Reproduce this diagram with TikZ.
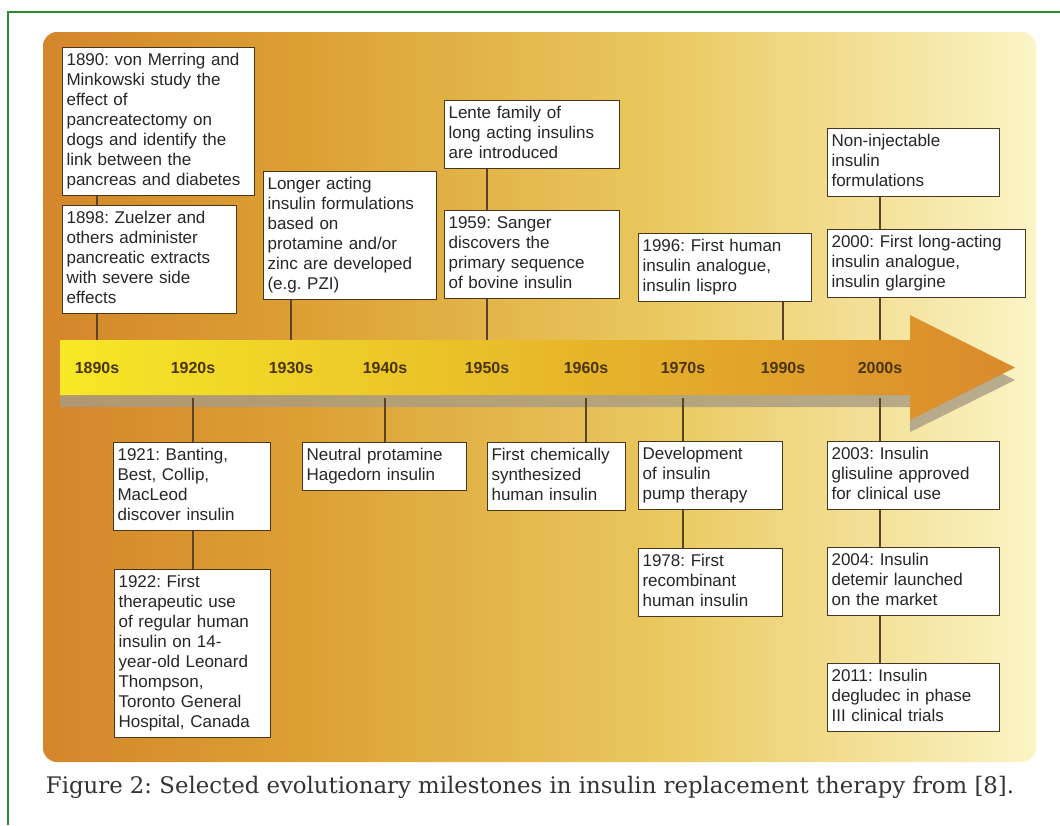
\documentclass[tikz,border=0pt]{standalone}
\usepackage{fontspec}
\setmainfont{Liberation Serif}
\setsansfont{Liberation Sans}
\newfontfamily\capfont{DejaVu Serif}
\usetikzlibrary{calc}
\frenchspacing
\definecolor{framec}{HTML}{2B8A2B}
\definecolor{bgA}{HTML}{D4862A}
\definecolor{bgB}{HTML}{DCA034}
\definecolor{bgC}{HTML}{E9C85E}
\definecolor{bgD}{HTML}{FBF4C6}
\definecolor{bandL}{HTML}{F6E826}
\definecolor{bandR}{HTML}{DA8A2C}
\definecolor{stemc}{HTML}{5B4325}
\definecolor{yearc}{HTML}{4A3512}
\definecolor{shadowc}{HTML}{A89C84}
\pgfdeclarehorizontalshading{bgshade}{100bp}{color(0bp)=(bgA); color(25bp)=(bgA); color(38bp)=(bgB); color(56bp)=(bgC); color(75bp)=(bgD); color(100bp)=(bgD)}
\tikzset{
  milestone/.style={draw=stemc!80!black,line width=1.1pt,fill=white,anchor=north west,
    align=left,inner sep=4pt,text=black!85,
    font=\sffamily\fontsize{17}{20}\selectfont,
    execute at begin node=\strut,execute at end node=\strut},
  year/.style={font=\sffamily\bfseries\fontsize{16}{18}\selectfont,text=yearc},
  stem/.style={draw=stemc,line width=2.2pt},
}

\begin{document}
\begin{tikzpicture}[x=1pt,y=-1pt]
\useasboundingbox (0,0) rectangle (1060,825);
\draw[framec,line width=2pt] (8,825)--(8,12)--(1060,12);
\shade[shading=bgshade,rounded corners=14pt] (43,32) rectangle (1036,762);

% timeline arrow
\fill[shadowc,opacity=.8] (60,352)--(910,352)--(910,327)--(1015,380)--(910,432)--(910,407)--(60,407)--cycle;
\shade[left color=bandL,right color=bandR] (60,340)--(910,340)--(910,315)--(1015,367.5)--(910,420)--(910,395)--(60,395)--cycle;
\coordinate (bandtop) at (0,340);
\coordinate (bandbot) at (0,398);
\foreach \yr/\xx in {1890/97,1920/193,1930/291,1940/385,1950/487,1960/586,1970/683,1990/783,2000/880}
  \node[year] (y\yr) at (\xx,368) {\yr s};

% above the arrow
\node[milestone,text width=184pt] (b1890) at (62,47) {1890: von Merring and\\Minkowski study the\\effect of\\pancreatectomy on\\dogs and identify the\\link between the\\pancreas and diabetes};
\node[milestone,text width=166pt] (b1898) at (62,205) {1898: Zuelzer and\\others administer\\pancreatic extracts\\with severe side\\effects};
\node[milestone,text width=165pt] (b1930) at (263,171) {Longer acting\\insulin formulations\\based on\\protamine and/or\\zinc are developed\\(e.g. PZI)};
\node[milestone,text width=167pt] (blente) at (444,100) {Lente family of\\long acting insulins\\are introduced};
\node[milestone,text width=167pt] (b1959) at (444,210) {1959: Sanger\\discovers the\\primary sequence\\of bovine insulin};
\node[milestone,text width=165pt] (b1996) at (638,233) {1996: First human\\insulin analogue,\\insulin lispro};
\node[milestone,text width=164pt] (bnoninj) at (827,128) {Non-injectable\\insulin\\formulations};
\node[milestone,text width=190pt] (b2000) at (827,229) {2000: First long-acting\\insulin analogue,\\insulin glargine};

% below the arrow
\node[milestone,text width=149pt] (b1921) at (113,442) {1921: Banting,\\Best, Collip,\\MacLeod\\discover insulin};
\node[milestone,text width=148pt] (b1922) at (114,569) {1922: First\\therapeutic use\\of regular human\\insulin on 14-\\year-old Leonard\\Thompson,\\Toronto General\\Hospital, Canada};
\node[milestone,text width=156pt] (bnph) at (302,442) {Neutral protamine\\Hagedorn insulin};
\node[milestone,text width=130pt] (bchem) at (487,442) {First chemically\\synthesized\\human insulin};
\node[milestone,text width=136pt] (bpump) at (638,441) {Development\\of insulin\\pump therapy};
\node[milestone,text width=136pt] (b1978) at (638,548) {1978: First\\recombinant\\human insulin};
\node[milestone,text width=164pt] (b2003) at (827,441) {2003: Insulin\\glisuline approved\\for clinical use};
\node[milestone,text width=164pt] (b2004) at (827,547) {2004: Insulin\\detemir launched\\on the market};
\node[milestone,text width=164pt] (b2011) at (827,663) {2011: Insulin\\degludec in phase\\III clinical trials};

\draw[stem] (b1890.south -| y1890)--(b1898.north -| y1890);
\draw[stem] (b1898.south -| y1890)--(y1890 |- bandtop);
\draw[stem] (b1930.south -| y1930)--(y1930 |- bandtop);
\draw[stem] (blente.south -| y1950)--(b1959.north -| y1950);
\draw[stem] (b1959.south -| y1950)--(y1950 |- bandtop);
\draw[stem] (b1996.south -| y1990)--(y1990 |- bandtop);
\draw[stem] (bnoninj.south -| y2000)--(b2000.north -| y2000);
\draw[stem] (b2000.south -| y2000)--(y2000 |- bandtop);
\draw[stem] (y1920 |- bandbot)--(b1921.north -| y1920);
\draw[stem] (b1921.south -| y1920)--(b1922.north -| y1920);
\draw[stem] (y1940 |- bandbot)--(bnph.north -| y1940);
\draw[stem] (y1960 |- bandbot)--(bchem.north -| y1960);
\draw[stem] (y1970 |- bandbot)--(bpump.north -| y1970);
\draw[stem] (bpump.south -| y1970)--(b1978.north -| y1970);
\draw[stem] (y2000 |- bandbot)--(b2003.north -| y2000);
\draw[stem] (b2003.south -| y2000)--(b2004.north -| y2000);
\draw[stem] (b2004.south -| y2000)--(b2011.north -| y2000);

\node[font=\capfont\fontsize{22.8}{27}\selectfont,text=black!80] (caption) at (530,787) {Figure 2: Selected evolutionary milestones in insulin replacement therapy from [8].};
\end{tikzpicture}
\end{document}
